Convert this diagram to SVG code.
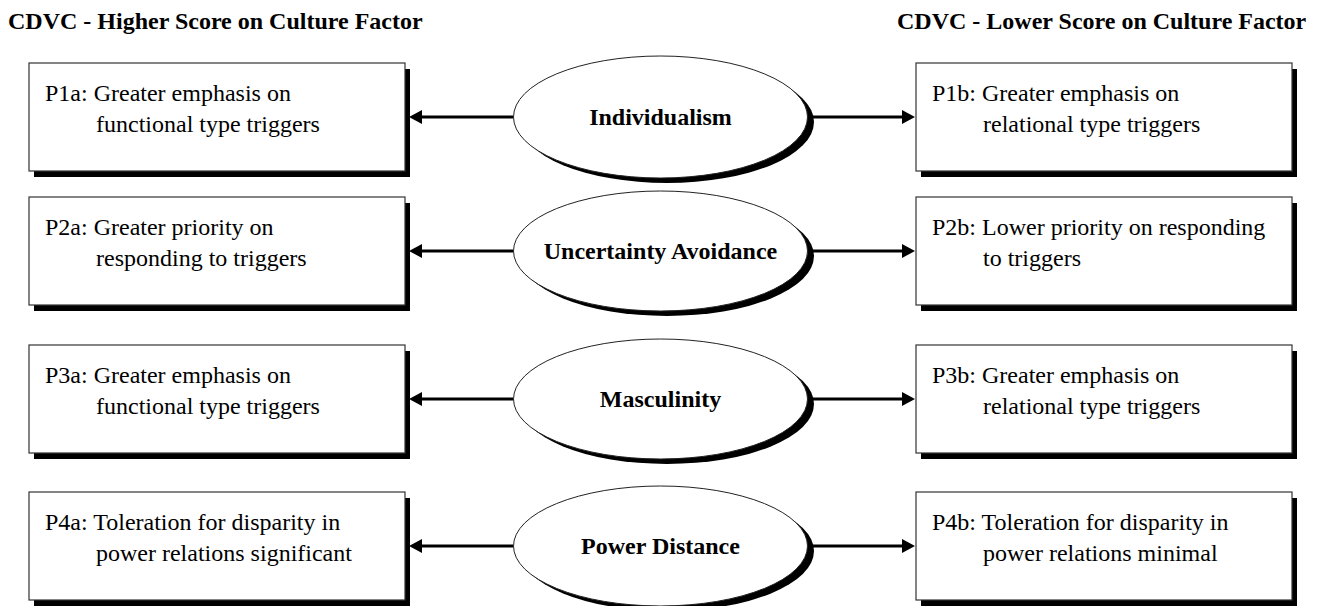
<svg xmlns="http://www.w3.org/2000/svg" width="1322" height="606" viewBox="0 0 1322 606">
<style>
.hdr{font-family:"Liberation Serif","Times New Roman",serif;font-size:24px;font-weight:bold;fill:#000}
.lbl{font-family:"Liberation Serif","Times New Roman",serif;font-size:24px;font-weight:bold;fill:#000;text-anchor:middle}
.txt{font-family:"Liberation Serif","Times New Roman",serif;font-size:24px;fill:#000}
.box{fill:#fff;stroke:#333;stroke-width:1.2}
.shd{fill:#000}
.ell{fill:#fff;stroke:#222;stroke-width:1}
.con{stroke:#000;stroke-width:3;fill:none}
</style>
<defs>
<marker id="ah" markerUnits="userSpaceOnUse" markerWidth="14" markerHeight="16" refX="0" refY="7" orient="auto" viewBox="0 0 14 14">
<path d="M0,0 L13,7 L0,14 z" fill="#000"/>
</marker>
</defs>
<rect width="1322" height="606" fill="#fff"/>
<text class="hdr" x="8" y="29">CDVC - Higher Score on Culture Factor</text>
<text class="hdr" x="897" y="29">CDVC - Lower Score on Culture Factor</text>

<g id="connectors">
<line class="con" x1="513" y1="117" x2="422" y2="117" marker-end="url(#ah)"/>
<line class="con" x1="808" y1="117" x2="902" y2="117" marker-end="url(#ah)"/>
<line class="con" x1="513" y1="251" x2="422" y2="251" marker-end="url(#ah)"/>
<line class="con" x1="808" y1="251" x2="902" y2="251" marker-end="url(#ah)"/>
<line class="con" x1="513" y1="399" x2="422" y2="399" marker-end="url(#ah)"/>
<line class="con" x1="808" y1="399" x2="902" y2="399" marker-end="url(#ah)"/>
<line class="con" x1="513" y1="546" x2="422" y2="546" marker-end="url(#ah)"/>
<line class="con" x1="808" y1="546" x2="902" y2="546" marker-end="url(#ah)"/>
</g>

<g id="p1a">
<rect class="shd" x="34" y="69" width="376" height="108"/>
<rect class="box" x="29" y="63" width="376" height="108"/>
<text class="txt" x="45" y="101">P1a: Greater emphasis on</text>
<text class="txt" x="96" y="132">functional type triggers</text>
</g>
<g id="individualism">
<ellipse class="shd" cx="667" cy="122" rx="147" ry="61"/>
<ellipse class="ell" cx="660.5" cy="117" rx="147" ry="61"/>
<text class="lbl" x="660.5" y="125">Individualism</text>
</g>
<g id="p1b">
<rect class="shd" x="921" y="69" width="376" height="108"/>
<rect class="box" x="916" y="63" width="376" height="108"/>
<text class="txt" x="932" y="101">P1b: Greater emphasis on</text>
<text class="txt" x="983" y="132">relational type triggers</text>
</g>

<g id="p2a">
<rect class="shd" x="34" y="203" width="376" height="108"/>
<rect class="box" x="29" y="197" width="376" height="108"/>
<text class="txt" x="45" y="235">P2a: Greater priority on</text>
<text class="txt" x="96" y="266">responding to triggers</text>
</g>
<g id="uncertainty">
<ellipse class="shd" cx="667" cy="256" rx="147" ry="60"/>
<ellipse class="ell" cx="660.5" cy="251" rx="147" ry="60"/>
<text class="lbl" x="660.5" y="259">Uncertainty Avoidance</text>
</g>
<g id="p2b">
<rect class="shd" x="921" y="203" width="376" height="108"/>
<rect class="box" x="916" y="197" width="376" height="108"/>
<text class="txt" x="932" y="235">P2b: Lower priority on responding</text>
<text class="txt" x="983" y="266">to triggers</text>
</g>

<g id="p3a">
<rect class="shd" x="34" y="351" width="376" height="108"/>
<rect class="box" x="29" y="345" width="376" height="108"/>
<text class="txt" x="45" y="383">P3a: Greater emphasis on</text>
<text class="txt" x="96" y="414">functional type triggers</text>
</g>
<g id="masculinity">
<ellipse class="shd" cx="667" cy="404" rx="147" ry="60"/>
<ellipse class="ell" cx="660.5" cy="399" rx="147" ry="60"/>
<text class="lbl" x="660.5" y="407">Masculinity</text>
</g>
<g id="p3b">
<rect class="shd" x="921" y="351" width="376" height="108"/>
<rect class="box" x="916" y="345" width="376" height="108"/>
<text class="txt" x="932" y="383">P3b: Greater emphasis on</text>
<text class="txt" x="983" y="414">relational type triggers</text>
</g>

<g id="p4a">
<rect class="shd" x="34" y="498" width="376" height="108"/>
<rect class="box" x="29" y="492" width="376" height="108"/>
<text class="txt" x="45" y="530">P4a: Toleration for disparity in</text>
<text class="txt" x="96" y="561">power relations significant</text>
</g>
<g id="power">
<ellipse class="shd" cx="667" cy="551" rx="147" ry="60"/>
<ellipse class="ell" cx="660.5" cy="546" rx="147" ry="60"/>
<text class="lbl" x="660.5" y="554">Power Distance</text>
</g>
<g id="p4b">
<rect class="shd" x="921" y="498" width="376" height="108"/>
<rect class="box" x="916" y="492" width="376" height="108"/>
<text class="txt" x="932" y="530">P4b: Toleration for disparity in</text>
<text class="txt" x="983" y="561">power relations minimal</text>
</g>
</svg>
